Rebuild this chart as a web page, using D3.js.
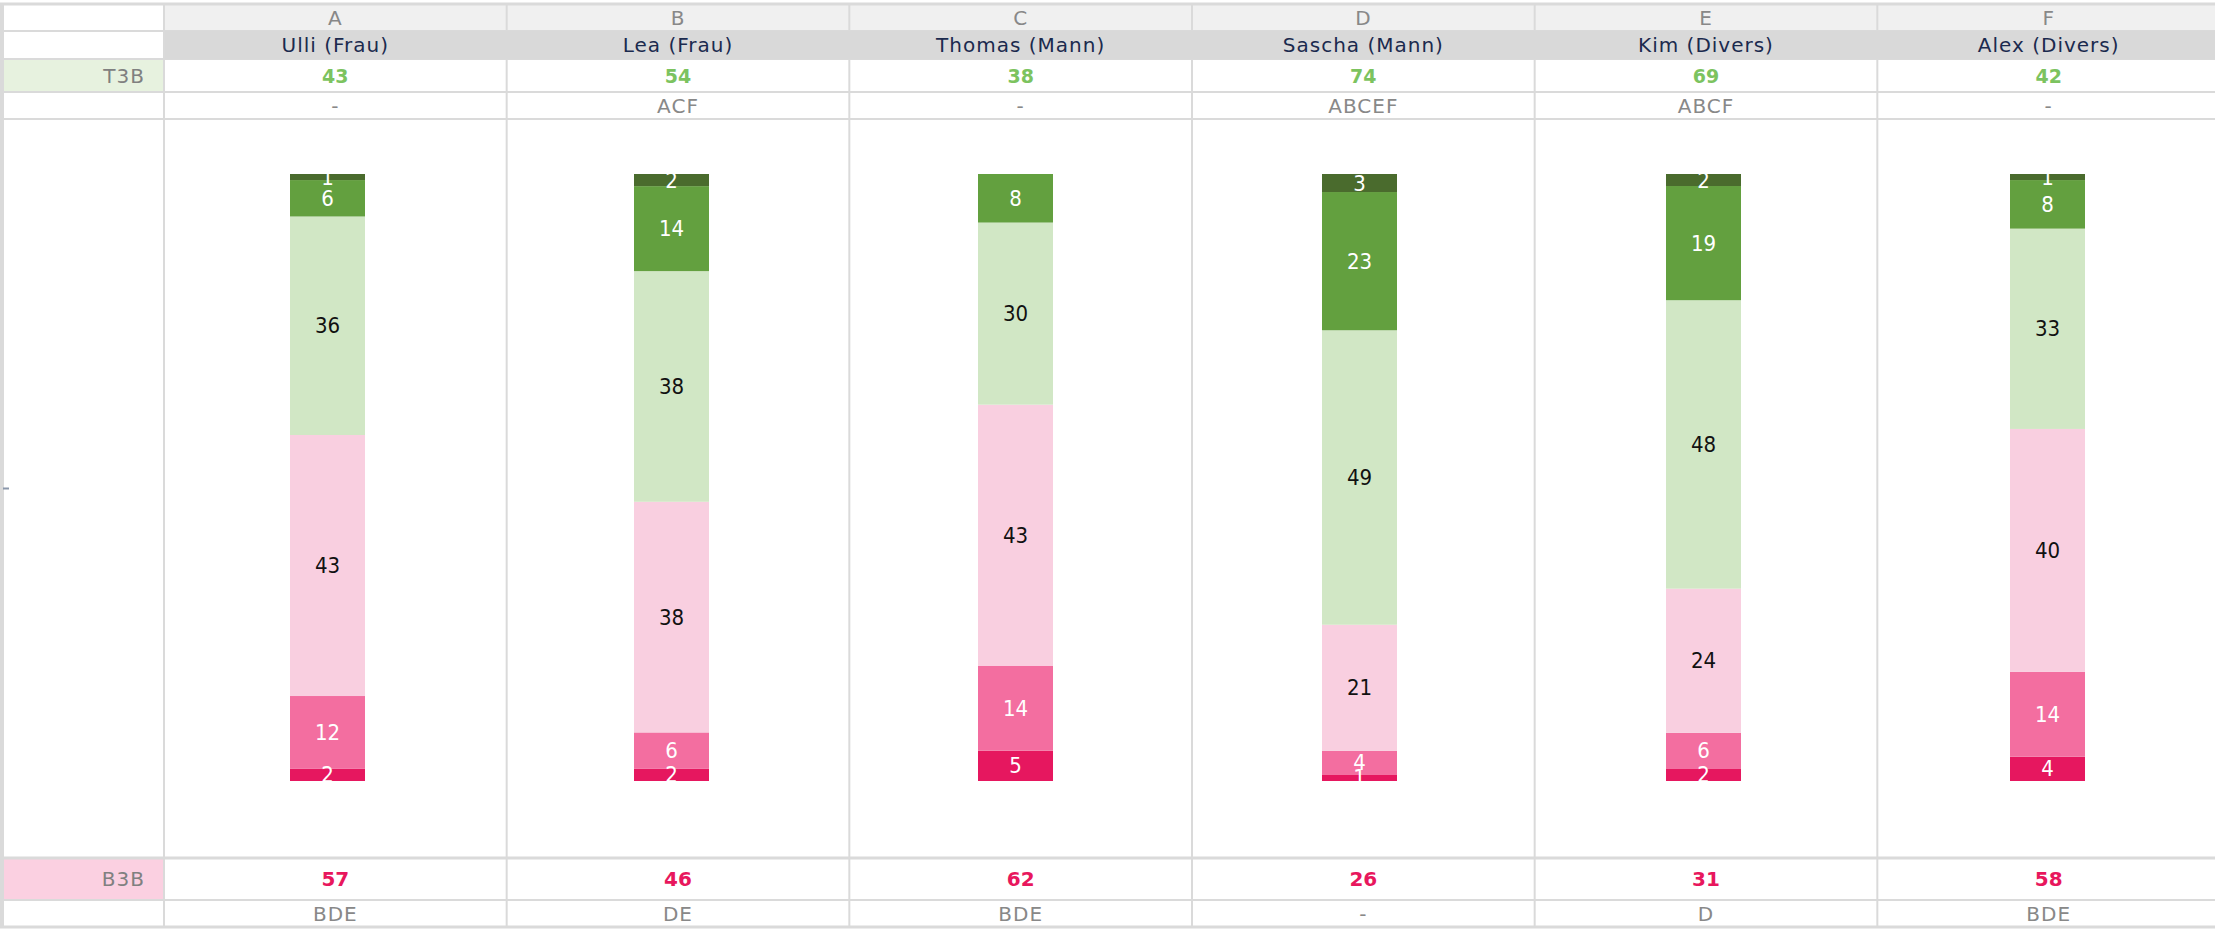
<!DOCTYPE html>
<html>
<head>
<meta charset="utf-8">
<script src="https://cdn.jsdelivr.net/npm/d3@7"></script>
<style>
  body { margin: 0; background: #fff; }
  .cell { font-family: "DejaVu Sans", Verdana, sans-serif; font-size: 20px; letter-spacing: 1px; }
  .num { font-family: "Liberation Sans Narrow", "DejaVu Sans Condensed", "DejaVu Sans", sans-serif; }
  .sum { font-family: "DejaVu Sans", sans-serif; font-weight: bold; }
</style>
</head>
<body>
<div id="chart"></div>
<script>
const groups = ["A", "B", "C", "D", "E", "F"];
const names = ["Ulli (Frau)", "Lea (Frau)", "Thomas (Mann)", "Sascha (Mann)", "Kim (Divers)", "Alex (Divers)"];

// segment shares per person, top of bar to bottom
const veryPositive   = [1, 2, 0, 3, 2, 1];
const positive       = [6, 14, 8, 23, 19, 8];
const ratherPositive = [36, 38, 30, 49, 48, 33];
const ratherNegative = [43, 38, 43, 21, 24, 40];
const negative       = [12, 6, 14, 4, 6, 14];
const veryNegative   = [2, 2, 5, 1, 2, 4];

const t3b = [43, 54, 38, 74, 69, 42];
const b3b = [57, 46, 62, 26, 31, 58];
const t3bSig = ["-", "ACF", "-", "ABCEF", "ABCF", "-"];
const b3bSig = ["BDE", "DE", "BDE", "-", "D", "BDE"];

const keys = ["vn", "n", "rn", "rp", "p", "vp"]; // stacking order, bottom first
const colors = { vp: "#4a6b2d", p: "#63a03f", rp: "#d1e7c5", rn: "#f9cfe0", n: "#f36ea0", vn: "#e6175f" };
const labelColors = { vp: "#fff", p: "#fff", rp: "#111", rn: "#111", n: "#fff", vn: "#fff" };

const data = groups.map((g, i) => ({
  group: g,
  vp: veryPositive[i], p: positive[i], rp: ratherPositive[i],
  rn: ratherNegative[i], n: negative[i], vn: veryNegative[i]
}));

const width = 2215, height = 929;
const lineColor = "#dadada";

// table rows: [top, bottom]
const rows = {
  head: [4, 31], name: [31, 59], t3b: [59, 92], t3bSig: [92, 119],
  chart: [119, 858], b3b: [858, 900], b3bSig: [900, 927]
};
const mid = (r) => (r[0] + r[1]) / 2;

const svg = d3.select("#chart").append("svg")
  .attr("width", width)
  .attr("height", height);

const col = d3.scaleBand().domain(groups).range([164, 2220]);
const cx = (g) => col(g) + col.bandwidth() / 2;

const x = d3.scaleBand().domain(groups).range([155.5, 2219.5])
  .paddingInner(0.782).paddingOuter(0.391);
const y = d3.scaleLinear().domain([0, 1]).range([781, 174]);

// backgrounds
svg.append("rect").attr("x", 164).attr("y", rows.head[0])
  .attr("width", width - 164).attr("height", rows.head[1] - rows.head[0])
  .attr("fill", "#f0f0f0");
svg.append("rect").attr("x", 2).attr("y", rows.t3b[0])
  .attr("width", 162).attr("height", rows.t3b[1] - rows.t3b[0])
  .attr("fill", "#e7f2df");
svg.append("rect").attr("x", 2).attr("y", rows.b3b[0])
  .attr("width", 162).attr("height", rows.b3b[1] - rows.b3b[0])
  .attr("fill", "#fbd0e1");

// grid
const hLines = [4, 31, 59, 92, 119, 858, 900, 927];
svg.append("g").selectAll("line").data(hLines).enter().append("line")
  .attr("x1", 0).attr("x2", width)
  .attr("y1", (d) => d).attr("y2", (d) => d)
  .attr("stroke", lineColor)
  .attr("stroke-width", (d) => (d === 4 || d === 927 || d === 858 ? 3 : 2));

const vLines = [164].concat(groups.slice(1).map((g) => col(g)));
svg.append("g").selectAll("line").data(vLines).enter().append("line")
  .attr("x1", (d) => d).attr("x2", (d) => d)
  .attr("y1", 4).attr("y2", 927)
  .attr("stroke", lineColor).attr("stroke-width", 2);
svg.append("line").attr("x1", 2).attr("x2", 2).attr("y1", 4).attr("y2", 927)
  .attr("stroke", lineColor).attr("stroke-width", 4);

// name band
svg.append("rect").attr("x", 165).attr("y", rows.name[0])
  .attr("width", width - 165).attr("height", rows.name[1] - rows.name[0])
  .attr("fill", "#d9d9d9");

// mid tick on the left edge
svg.append("line").attr("x1", 3).attr("x2", 9)
  .attr("y1", mid(rows.chart)).attr("y2", mid(rows.chart))
  .attr("stroke", "#8a97ab").attr("stroke-width", 2);

// header texts
const textRow = (cls, row, vals, fill, extra) => {
  const t = svg.append("g").selectAll("text").data(groups).enter().append("text")
    .attr("class", cls)
    .attr("x", (g) => cx(g))
    .attr("y", mid(row))
    .attr("text-anchor", "middle")
    .attr("dominant-baseline", "central")
    .attr("fill", fill)
    .text((g, i) => vals[i]);
  if (extra) extra(t);
  return t;
};

textRow("cell", rows.head, groups, "#888");
textRow("cell", rows.name, names, "#1b2a4e");
textRow("sum", rows.t3b, t3b, "#7cc35f", (t) => t.attr("font-size", 19));
textRow("cell", rows.t3bSig, t3bSig, "#888");
textRow("sum", rows.b3b, b3b, "#e8175d", (t) => t.attr("font-size", 20));
textRow("cell", rows.b3bSig, b3bSig, "#888", (t) => t.attr("font-size", 22));

svg.append("text").attr("class", "cell")
  .attr("x", 145).attr("y", mid(rows.t3b))
  .attr("text-anchor", "end").attr("dominant-baseline", "central")
  .attr("fill", "#808080").text("T3B");
svg.append("text").attr("class", "cell")
  .attr("x", 145).attr("y", mid(rows.b3b))
  .attr("text-anchor", "end").attr("dominant-baseline", "central")
  .attr("font-size", 22)
  .attr("fill", "#808080").text("B3B");

// stacked bars
const series = d3.stack().keys(keys).offset(d3.stackOffsetExpand)(data);

const layer = svg.append("g").selectAll("g").data(series).enter().append("g")
  .attr("fill", (s) => colors[s.key]);

layer.selectAll("rect").data((s) => s).enter().append("rect")
  .attr("x", (d) => x(d.data.group))
  .attr("width", x.bandwidth())
  .attr("y", (d) => y(d[1]))
  .attr("height", (d) => y(d[0]) - y(d[1]));

const labels = svg.append("g");
series.forEach((s) => {
  labels.selectAll(null).data(s.filter((d) => d.data[s.key] > 0)).enter().append("text")
    .attr("class", "num")
    .attr("x", (d) => x(d.data.group) + x.bandwidth() / 2)
    .attr("y", (d) => y((d[0] + d[1]) / 2))
    .attr("text-anchor", "middle")
    .attr("dominant-baseline", "central")
    .attr("font-size", 22)
    .attr("fill", labelColors[s.key])
    .text((d) => d.data[s.key]);
});
</script>
</body>
</html>
